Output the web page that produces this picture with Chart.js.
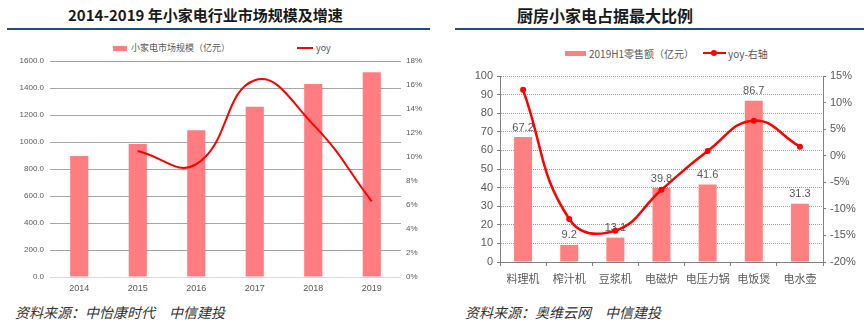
<!DOCTYPE html>
<html>
<head>
<meta charset="utf-8">
<script src="https://cdn.jsdelivr.net/npm/chart.js@4"></script>
<style>
  body { margin: 0; width: 864px; height: 327px; background: #fff; overflow: hidden; position: relative;
         font-family: "Liberation Sans", "Noto Sans CJK SC", sans-serif; }
  .abs { position: absolute; white-space: nowrap; }
  .title { font-family: "Noto Sans CJK SC", sans-serif; font-weight: bold; color: #1a1a1a; }
  .rule { position: absolute; height: 2px; background: #1f4e79; }
  .src { font-family: "Noto Sans CJK SC", sans-serif; font-style: italic; color: #333; font-size: 14px; }
  .leg { font-family: "Noto Sans CJK SC", sans-serif; color: #595959; }
  canvas { position: absolute; }
</style>
</head>
<body>
<div class="abs title" style="left:68px; top:4px; font-size:15px;">2014-2019 年小家电行业市场规模及增速</div>
<div class="rule" style="left:7px; top:28px; width:423px;"></div>
<div class="abs title" style="left:517px; top:3px; font-size:16px;">厨房小家电占据最大比例</div>
<div class="rule" style="left:455px; top:28px; width:409px;"></div>

<!-- left legend -->
<div class="abs" style="left:113px; top:46px; width:14px; height:5px; background:#ff7c80;"></div>
<div class="abs leg" style="left:131px; top:41px; font-size:9px;">小家电市场规模（亿元）</div>
<div class="abs" style="left:297px; top:47px; width:16px; height:2px; background:#ff0000;"></div>
<div class="abs leg" style="left:316px; top:41px; font-size:9px;">yoy</div>

<!-- right legend -->
<div class="abs" style="left:565px; top:51px; width:21px; height:5px; background:#ff8080;"></div>
<div class="abs leg" style="left:589px; top:46px; font-size:10px;">2019H1零售额（亿元）</div>
<div class="abs" style="left:703px; top:52px; width:23px; height:2px; background:#ff0000;"></div>
<div class="abs" style="left:711px; top:50px; width:6px; height:6px; border-radius:3px; background:#ff0000;"></div>
<div class="abs leg" style="left:728px; top:46px; font-size:10px;">yoy-右轴</div>

<canvas id="leftChart" width="432" height="260" style="left:0; top:40px;"></canvas>
<canvas id="rightChart" width="432" height="260" style="left:432px; top:40px;"></canvas>

<div class="abs src" style="left:15px; top:302px;">资料来源：中怡康时代　中信建投</div>
<div class="abs src" style="left:465px; top:302px;">资料来源：奥维云网　中信建投</div>

<script>
// left chart data
const years = ["2014", "2015", "2016", "2017", "2018", "2019"];
const marketSize = [896, 985, 1087, 1262, 1430, 1516];
const marketYoy = [null, 10.5, 9.4, 16.4, 12.7, 6.3];

// right chart data
const appliances = ["料理机", "榨汁机", "豆浆机", "电磁炉", "电压力锅", "电饭煲", "电水壶"];
const retailSales = [67.2, 9.2, 13.1, 39.8, 41.6, 86.7, 31.3];
const retailYoy = [12.4, -11.9, -14.1, -6.4, 0.9, 6.6, 1.7];

Chart.defaults.font.family = '"Liberation Sans", "Noto Sans CJK SC", sans-serif';
Chart.defaults.color = "#595959";
Chart.defaults.animation = false;

function fixWidth(w) {
  return function (scale) { scale.width = w; };
}
function fixHeight(h) {
  return function (scale) { scale.height = h; };
}

new Chart(document.getElementById("leftChart"), {
  type: "bar",
  data: {
    labels: years,
    datasets: [
      {
        type: "line",
        label: "yoy",
        data: marketYoy,
        yAxisID: "y2",
        borderColor: "#ff0000",
        borderWidth: 2,
        pointRadius: 0,
        tension: 0.45,
        order: 0,
      },
      {
        label: "小家电市场规模（亿元）",
        data: marketSize,
        yAxisID: "y",
        backgroundColor: "#ff7c80",
        categoryPercentage: 1,
        barPercentage: 0.31,
        order: 1,
      },
    ],
  },
  options: {
    responsive: false,
    devicePixelRatio: 1,
    layout: { padding: { top: 21, left: 0, right: 0, bottom: 0 } },
    plugins: { legend: { display: false }, tooltip: { enabled: false } },
    scales: {
      x: {
        grid: { display: false, drawTicks: false },
        border: { display: false },
        ticks: { font: { size: 9 }, padding: 6, maxRotation: 0 },
        afterFit: fixHeight(23),
      },
      y: {
        position: "left",
        min: 0,
        max: 1600,
        ticks: { stepSize: 200, font: { size: 8 }, padding: 6, callback: (v) => v.toFixed(1) },
        grid: {
          drawTicks: false,
          color: (c) => (c.tick.value === 0 ? "#d9d9d9" : "#a6a6a6"),
        },
        border: { display: false },
        afterFit: fixWidth(50),
      },
      y2: {
        position: "right",
        min: 0,
        max: 18,
        ticks: { stepSize: 2, font: { size: 8 }, padding: 5, callback: (v) => v + "%" },
        grid: { display: false, drawTicks: false },
        border: { display: false },
        afterFit: fixWidth(31),
      },
    },
  },
});

const barValueLabels = {
  id: "barValueLabels",
  afterDatasetDraw(chart, args) {
    if (args.index !== 1) return;
    const ctx = chart.ctx;
    ctx.save();
    ctx.font = '11px "Liberation Sans", sans-serif';
    ctx.fillStyle = "#595959";
    ctx.textAlign = "center";
    ctx.textBaseline = "bottom";
    args.meta.data.forEach((bar, i) => {
      ctx.fillText(retailSales[i].toFixed(1), bar.x, bar.y - 4);
    });
    ctx.restore();
  },
};

new Chart(document.getElementById("rightChart"), {
  type: "bar",
  data: {
    labels: appliances,
    datasets: [
      {
        type: "line",
        label: "yoy-右轴",
        data: retailYoy,
        yAxisID: "y2",
        borderColor: "#ff0000",
        backgroundColor: "#ff0000",
        borderWidth: 2.5,
        pointRadius: 3,
        pointBorderWidth: 0,
        tension: 0.45,
        order: 0,
      },
      {
        label: "2019H1零售额（亿元）",
        data: retailSales,
        yAxisID: "y",
        backgroundColor: "#ff8080",
        categoryPercentage: 1,
        barPercentage: 0.39,
        order: 1,
      },
    ],
  },
  plugins: [barValueLabels],
  options: {
    responsive: false,
    devicePixelRatio: 1,
    layout: { padding: { top: 36, left: 0, right: 0, bottom: 0 } },
    plugins: { legend: { display: false }, tooltip: { enabled: false } },
    scales: {
      x: {
        grid: { offset: true, drawOnChartArea: false, tickLength: 4, color: "#808080" },
        border: { display: true, color: "#808080" },
        ticks: {
          font: { size: 11, family: '"Noto Sans CJK SC", sans-serif' },
          padding: 6,
          maxRotation: 0,
          minRotation: 0,
          autoSkip: false,
        },
        afterFit: fixHeight(38),
      },
      y: {
        position: "left",
        min: 0,
        max: 100,
        ticks: { stepSize: 10, font: { size: 11 }, padding: 4 },
        grid: { color: "#9a9a9a", tickLength: 3, tickColor: "#808080" },
        border: { display: true, color: "#808080", dash: [1, 1] },
        afterFit: fixWidth(68),
      },
      y2: {
        position: "right",
        min: -20,
        max: 15,
        ticks: { stepSize: 5, font: { size: 11 }, padding: 4, callback: (v) => v + "%" },
        grid: { drawOnChartArea: false, tickLength: 3, color: "#808080" },
        border: { display: true, color: "#808080" },
        afterFit: fixWidth(41),
      },
    },
  },
});
</script>
</body>
</html>
